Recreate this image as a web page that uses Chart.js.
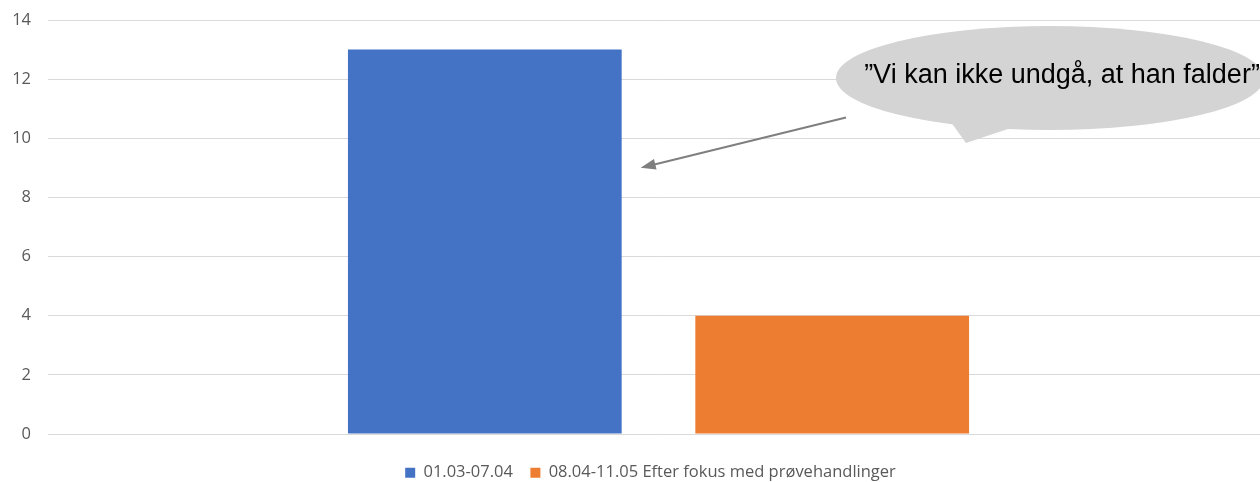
<!DOCTYPE html>
<html>
<head>
<meta charset="utf-8">
<script src="https://cdn.jsdelivr.net/npm/chart.js@4/dist/chart.umd.min.js"></script>
<style>
  html, body { margin: 0; padding: 0; background: #fff; overflow: hidden; }
  #wrap { width: 1269px; height: 491px; position: relative; }
</style>
</head>
<body>
<div id="wrap"><canvas id="chart"></canvas></div>
<script>
// data
const categories = [''];
const seriesNames = ['01.03-07.04', '08.04-11.05 Efter fokus med prøvehandlinger'];
const before = [13];
const after = [4];
const yTicks = [0, 2, 4, 6, 8, 10, 12, 14];
const calloutText = '\u201DVi kan ikke undgå, at han falder\u201D';

// speech bubble + arrow drawn over the chart
const callout = {
    id: 'callout',
    afterLayout(chart) {
        // nudge legend so it sits a bit right of the canvas centre, like the original
        chart.legend.left += 32;
    },
    afterDraw(chart) {
        const c = chart.ctx;
        const y = chart.scales.y;
        const bar = chart.getDatasetMeta(0).data[0];
        c.save();

        // bubble tail
        c.fillStyle = '#d4d4d4';
        c.beginPath();
        c.moveTo(948, 118);
        c.lineTo(966, 143);
        c.lineTo(1020, 125);
        c.closePath();
        c.fill();

        // bubble
        c.beginPath();
        c.ellipse(1050, 78, 214, 52, 0, 0, Math.PI * 2);
        c.fill();

        c.fillStyle = '#000';
        c.font = '27px "Liberation Sans", Arial, sans-serif';
        c.textAlign = 'center';
        c.textBaseline = 'alphabetic';
        c.fillText(calloutText, 1062, 83);

        // arrow pointing at the first bar
        const x1 = 846, y1 = y.getPixelForValue(10.7);
        const x2 = bar.x + bar.width / 2 + 19, y2 = y.getPixelForValue(9);
        const ang = Math.atan2(y2 - y1, x2 - x1);
        c.strokeStyle = '#7f7f7f';
        c.fillStyle = '#7f7f7f';
        c.lineWidth = 2;
        c.beginPath();
        c.moveTo(x1, y1);
        c.lineTo(x2 - 12 * Math.cos(ang), y2 - 12 * Math.sin(ang));
        c.stroke();
        c.beginPath();
        c.moveTo(x2, y2);
        c.lineTo(x2 - 16 * Math.cos(ang - 0.35), y2 - 16 * Math.sin(ang - 0.35));
        c.lineTo(x2 - 16 * Math.cos(ang + 0.35), y2 - 16 * Math.sin(ang + 0.35));
        c.closePath();
        c.fill();
        c.restore();
    }
};

new Chart(document.getElementById('chart'), {
    type: 'bar',
    data: {
        labels: categories,
        datasets: [{
            label: seriesNames[0],
            data: before,
            backgroundColor: '#4472C4'
        }, {
            label: seriesNames[1],
            data: after,
            backgroundColor: '#ED7D31'
        }]
    },
    options: {
        responsive: true,
        maintainAspectRatio: false,
        animation: false,
        layout: { padding: 0 },
        datasets: { bar: { categoryPercentage: 0.569, barPercentage: 0.788 } },
        scales: {
            x: {
                afterFit: (s) => { s.height = 13; },
                grid: { display: false },
                border: { display: false },
                ticks: { display: false }
            },
            y: {
                min: 0,
                max: 14,
                afterFit: (s) => {
                    s.width = 48;
                    s.paddingTop = 20;
                    s.paddingBottom = 0;
                },
                afterBuildTicks: (s) => { s.ticks = yTicks.map(v => ({ value: v })); },
                grid: { color: '#d9d9d9', lineWidth: 1, drawTicks: false },
                border: { display: false },
                ticks: {
                    padding: 17,
                    color: '#595959',
                    font: { family: '"Open Sans", sans-serif', size: 16.5 }
                }
            }
        },
        plugins: {
            legend: {
                position: 'bottom',
                labels: {
                    boxWidth: 10,
                    boxHeight: 10,
                    padding: 17.5,
                    color: '#595959',
                    font: { family: '"Open Sans", sans-serif', size: 16.5 }
                }
            },
            tooltip: { enabled: false }
        }
    },
    plugins: [callout]
});
</script>
</body>
</html>
